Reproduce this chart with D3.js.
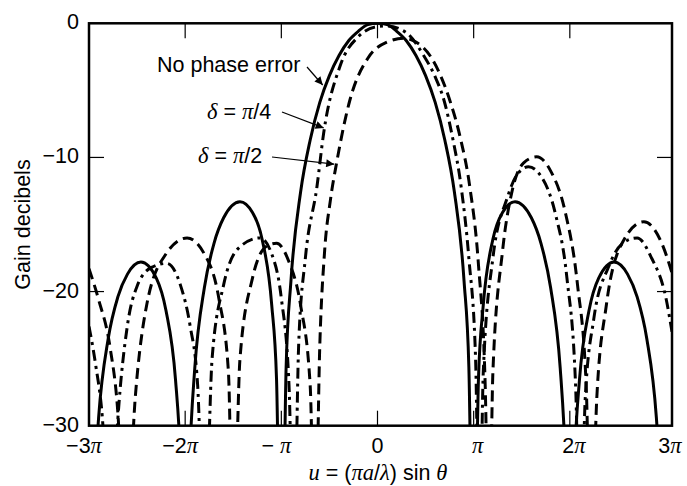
<!DOCTYPE html>
<html><head><meta charset="utf-8">
<script src="https://cdn.jsdelivr.net/npm/d3@7"></script>
<style>html,body{margin:0;padding:0;background:#fff}svg{display:block}</style>
</head><body>
<script>
// ---- data (u in units of pi, gain in dB) ----
const xTicks = [-3, -2, -1, 0, 1, 2, 3];
const xTickLabels = [["−3", "π"], ["−2", "π"], ["− ", "π"], ["0", ""], ["", "π"], ["2", "π"], ["3", "π"]];
const yTicks = [0, -10, -20, -30];
const yTickLabels = ["0", "−10", "−20", "−30"];

const noPhaseError = [
  [-3.0,-45],[-2.95,-35.5],[-2.9,-29.4],[-2.8,-23.5],[-2.7,-20.4],[-2.6,-18.7],[-2.46,-17.8],[-2.3,-19.0],[-2.2,-21.4],[-2.1,-26.6],[-2.05,-32.3],[-2.0,-45],
  [-1.95,-31.9],[-1.9,-25.7],[-1.8,-19.7],[-1.7,-16.4],[-1.6,-14.5],[-1.43,-13.3],[-1.3,-14.1],[-1.2,-16.1],[-1.1,-21.0],[-1.05,-26.5],[-1.0,-45],
  [-0.95,-25.6],[-0.9,-19.2],[-0.8,-12.6],[-0.7,-8.7],[-0.6,-5.9],[-0.5,-3.9],[-0.4,-2.4],[-0.3,-1.3],[-0.2,-0.6],[-0.1,-0.1],[0,0],
  [0.1,-0.1],[0.2,-0.6],[0.3,-1.3],[0.4,-2.4],[0.5,-3.9],[0.6,-5.9],[0.7,-8.7],[0.8,-12.6],[0.9,-19.2],[0.95,-25.6],[1.0,-45],
  [1.05,-26.5],[1.1,-21.0],[1.2,-16.1],[1.3,-14.1],[1.43,-13.3],[1.6,-14.5],[1.7,-16.4],[1.8,-19.7],[1.9,-25.7],[1.95,-31.9],[2.0,-45],
  [2.05,-32.3],[2.1,-26.6],[2.2,-21.4],[2.3,-19.0],[2.46,-17.8],[2.6,-18.7],[2.7,-20.4],[2.8,-23.5],[2.9,-29.4],[2.95,-35.5],[3.0,-45],[3.0625,-36]
];

const deltaQuarterPi = [
  [-3.0,-22.6],[-2.93,-25.5],[-2.86,-29.5],[-2.78,-40],[-2.7,-29.5],[-2.6,-22.5],[-2.5,-19.6],[-2.35,-18.2],[-2.19,-17.9],[-2.05,-19.5],[-1.95,-22.5],[-1.87,-27],[-1.8,-40],
  [-1.72,-25],[-1.6,-19.5],[-1.45,-16.8],[-1.22,-16.0],[-1.1,-17.2],[-1.0,-20.5],[-0.92,-27],[-0.87,-40],
  [-0.82,-24],[-0.75,-17.5],[-0.63,-12.2],[-0.56,-8.2],[-0.39,-3.2],[-0.2,-1.0],[0.0,-0.25],[0.1,-0.2],[0.3,-0.7],[0.48,-2.4],[0.6,-4.0],[0.69,-5.7],[0.78,-8.5],[0.87,-12.2],[0.95,-17.5],[1.02,-25],[1.06,-40],
  [1.1,-26],[1.2,-17.5],[1.35,-13.0],[1.45,-11.3],[1.57,-10.7],[1.7,-11.4],[1.85,-14.2],[1.97,-19],[2.06,-27],[2.11,-40],
  [2.16,-28],[2.25,-22],[2.4,-18.2],[2.55,-16.4],[2.7,-16.0],[2.85,-17.5],[3.0,-20.5],[3.0625,-23]
];

const deltaHalfPi = [
  [-3.0,-18.3],[-2.9,-20.6],[-2.78,-24.2],[-2.7,-29],[-2.62,-40],[-2.52,-28],[-2.4,-21],[-2.2,-17.2],[-1.98,-16.0],[-1.8,-17.2],[-1.65,-20.5],[-1.55,-26],[-1.5,-40],
  [-1.43,-25],[-1.3,-19],[-1.15,-16.6],[-1.05,-16.4],[-0.92,-17.8],[-0.8,-21],[-0.7,-27],[-0.65,-40],
  [-0.6,-24],[-0.55,-17],[-0.49,-13.2],[-0.42,-10.2],[-0.286,-5.7],[-0.1,-2.6],[0.1,-1.4],[0.27,-1.12],[0.4,-1.4],[0.545,-2.4],[0.65,-3.8],[0.75,-5.7],[0.86,-8.5],[0.96,-12.2],[1.05,-18],[1.12,-27],[1.16,-40],
  [1.2,-26],[1.3,-17],[1.4,-12.5],[1.52,-10.4],[1.655,-9.95],[1.8,-11],[1.95,-14],[2.08,-19.5],[2.17,-27],[2.22,-40],
  [2.28,-28],[2.38,-21],[2.55,-16.3],[2.77,-14.8],[2.95,-16.3],[3.0625,-18.6]
];

// annotation arrow tips (data coords)
const annNoError = {text: "No phase error", tip: [-0.57, -4.6]};
const annQuarter = {tip: [-0.56, -7.8]};
const annHalf = {tip: [-0.45, -10.5]};

// ---- drawing ----
const W = 687, H = 486;
const svg = d3.select("body").append("svg").attr("width", W).attr("height", H);
const x = d3.scaleLinear().domain([-3, 3.0625]).range([89, 672]);
const y = d3.scaleLinear().domain([-30, 0]).range([425.7, 23.3]);
const sans = "'Liberation Sans', Arial, Helvetica, sans-serif";
const serif = "'Liberation Serif', 'Times New Roman', serif";
const FS = 21.5;

const defs = svg.append("defs");
defs.append("clipPath").attr("id", "clip")
  .append("rect").attr("x", x(-3)).attr("y", y(0)).attr("width", x(3.0625) - x(-3)).attr("height", y(-30) - y(0));

const line = d3.line().x(d => x(d[0])).y(d => y(d[1])).curve(d3.curveMonotoneX);
const g = svg.append("g").attr("clip-path", "url(#clip)");
const series = [
  {data: noPhaseError, dash: null},
  {data: deltaQuarterPi, dash: "11,5,3,5"},
  {data: deltaHalfPi, dash: "11,6"}
];
series.forEach(s => {
  g.append("path").attr("d", line(s.data)).attr("fill", "none").attr("stroke", "#000")
    .attr("stroke-width", 3).attr("stroke-dasharray", s.dash);
});

// ticks
const tl = 15;
xTicks.filter(t => t > -3 && t < 3).forEach(t => {
  svg.append("line").attr("x1", x(t)).attr("x2", x(t)).attr("y1", y(-30)).attr("y2", y(-30) - tl).attr("stroke", "#000").attr("stroke-width", 1.2);
  svg.append("line").attr("x1", x(t)).attr("x2", x(t)).attr("y1", y(0)).attr("y2", y(0) + tl).attr("stroke", "#000").attr("stroke-width", 1.2);
});
yTicks.filter(t => t < 0 && t > -30).forEach(t => {
  svg.append("line").attr("x1", x(-3)).attr("x2", x(-3) + tl).attr("y1", y(t)).attr("y2", y(t)).attr("stroke", "#000").attr("stroke-width", 1.2);
  svg.append("line").attr("x1", x(3.0625)).attr("x2", x(3.0625) - tl).attr("y1", y(t)).attr("y2", y(t)).attr("stroke", "#000").attr("stroke-width", 1.2);
});

// frame
svg.append("rect").attr("x", x(-3)).attr("y", y(0)).attr("width", x(3.0625) - x(-3)).attr("height", y(-30) - y(0))
  .attr("fill", "none").attr("stroke", "#000").attr("stroke-width", 2.5);

// x tick labels
xTicks.forEach((t, i) => {
  const tx = svg.append("text").attr("x", x(t) + (t < 0 ? -5 : t > 0 ? 4 : 0)).attr("y", 453).attr("text-anchor", "middle")
    .attr("font-family", sans).attr("font-size", FS);
  const [a, b] = xTickLabels[i];
  if (a) tx.append("tspan").attr("xml:space", "preserve").text(a);
  if (b) tx.append("tspan").attr("font-family", serif).attr("font-style", "italic").attr("font-size", FS + 1).text(b);
});
// y tick labels
yTicks.forEach((t, i) => {
  svg.append("text").attr("x", 79).attr("y", y(t) + 6).attr("text-anchor", "end")
    .attr("font-family", sans).attr("font-size", FS).text(yTickLabels[i]);
});

// axis titles
svg.append("text").attr("transform", `translate(30,${(y(0) + y(-30)) / 2}) rotate(-90)`)
  .attr("text-anchor", "middle").attr("font-family", sans).attr("font-size", FS).text("Gain decibels");
const xt = svg.append("text").attr("x", 378).attr("y", 480).attr("text-anchor", "middle")
  .attr("font-family", sans).attr("font-size", FS).attr("xml:space", "preserve");
const parts = [["u", 1], [" = (", 0], ["π", 1], ["a", 1], ["/", 0], ["λ", 1], [") sin ", 0], ["θ", 1]];
parts.forEach(([s, it]) => {
  const ts = xt.append("tspan").text(s);
  if (it) ts.attr("font-family", serif).attr("font-style", "italic").attr("font-size", FS + 1);
});

// annotations
defs.append("marker").attr("id", "arr").attr("viewBox", "0 0 10 10").attr("refX", 10).attr("refY", 5)
  .attr("markerWidth", 10).attr("markerHeight", 8).attr("orient", "auto").attr("markerUnits", "userSpaceOnUse")
  .append("path").attr("d", "M0,0 L10,5 L0,10 z").attr("fill", "#000");

svg.append("text").attr("x", 157).attr("y", 72).attr("font-family", sans).attr("font-size", FS).text(annNoError.text);
svg.append("line").attr("x1", 307).attr("y1", 67).attr("x2", x(annNoError.tip[0])).attr("y2", y(annNoError.tip[1]))
  .attr("stroke", "#000").attr("stroke-width", 1.2).attr("marker-end", "url(#arr)");

function deltaLabel(xp, yp, den) {
  const t = svg.append("text").attr("x", xp).attr("y", yp).attr("font-family", sans).attr("font-size", FS).attr("xml:space", "preserve");
  t.append("tspan").attr("font-family", serif).attr("font-style", "italic").attr("font-size", FS + 1).text("δ");
  t.append("tspan").text(" = ");
  t.append("tspan").attr("font-family", serif).attr("font-style", "italic").attr("font-size", FS + 1).text("π");
  t.append("tspan").text("/" + den);
}
deltaLabel(207, 119, "4");
svg.append("line").attr("x1", 282).attr("y1", 112).attr("x2", x(annQuarter.tip[0])).attr("y2", y(annQuarter.tip[1]))
  .attr("stroke", "#000").attr("stroke-width", 1.2).attr("marker-end", "url(#arr)");
deltaLabel(198, 163, "2");
svg.append("line").attr("x1", 272).attr("y1", 157).attr("x2", x(annHalf.tip[0])).attr("y2", y(annHalf.tip[1]))
  .attr("stroke", "#000").attr("stroke-width", 1.2).attr("marker-end", "url(#arr)");
</script>
</body></html>
